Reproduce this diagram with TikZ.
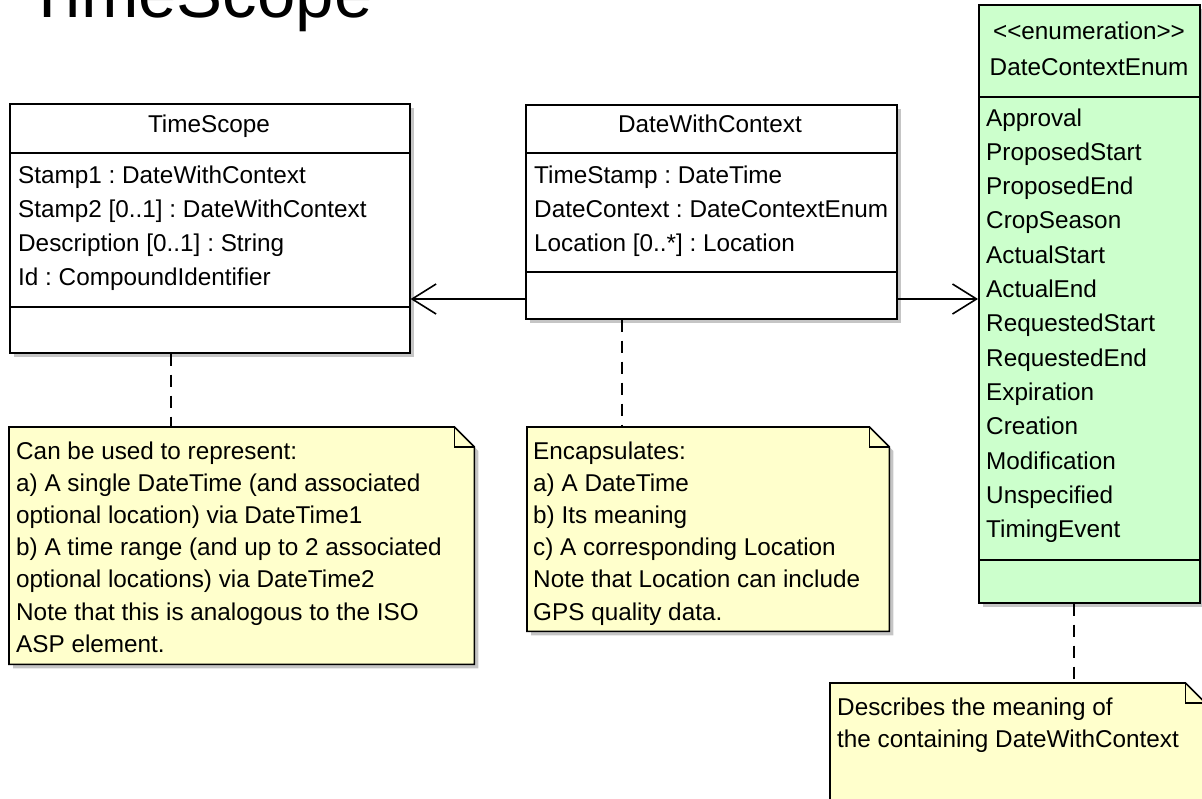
\documentclass[tikz,border=0pt]{standalone}
\usepackage{fontspec}
\setmainfont{Liberation Sans}
\usetikzlibrary{arrows.meta,shadows}
\definecolor{enumgreen}{RGB}{204,255,204}
\definecolor{noteyellow}{RGB}{255,255,204}
\frenchspacing
\begin{document}
\begin{tikzpicture}[x=1pt,y=-1pt,
  every node/.style={inner sep=0pt},
  classbox/.style={draw, line width=1.6pt, fill=white, anchor=north west,
    drop shadow={shadow xshift=4pt, shadow yshift=-4pt, fill=black!45, opacity=.5}},
  sep/.style={line width=1.6pt},
  classname/.style={anchor=base, font=\fontsize{24.3}{34}\selectfont},
  attrs/.style={anchor=base west, align=left, font=\fontsize{24.3}{34}\selectfont},
  note/.style={anchor=north west, draw=none},
  notepath/.style={draw, line width=1.6pt, fill=noteyellow,
    drop shadow={shadow xshift=4pt, shadow yshift=-4pt, fill=black!45, opacity=.5}},
  notetext/.style={anchor=base west, align=left, font=\fontsize{24.3}{32.2}\selectfont},
  notelink/.style={line width=1.6pt, dash pattern=on 12pt off 9pt},
  assoc/.style={line width=1.6pt, -{Straight Barb[length=24pt, width=30pt]}}]
\useasboundingbox (0,0) rectangle (1202,798);
\clip (0,0) rectangle (1202,798);

\node (title) [anchor=base west, font=\fontsize{69}{69}\selectfont] at (26,17) {TimeScope};

% classes
\node (ts) [classbox, minimum width=400, minimum height=249] at (9,103) {};
\node (dwc) [classbox, minimum width=371, minimum height=214] at (525,104) {};
\node (enum) [classbox, fill=enumgreen, minimum width=221, minimum height=598] at (978,4) {};

\draw[sep]
(ts.west |- 0,153) -- (ts.east |- 0,153)
(ts.west |- 0,307) -- (ts.east |- 0,307)
(dwc.west |- 0,153) -- (dwc.east |- 0,153)
(dwc.west |- 0,272) -- (dwc.east |- 0,272)
(enum.west |- 0,97) -- (enum.east |- 0,97)
(enum.west |- 0,560) -- (enum.east |- 0,560);

% base of a multi-line node = baseline of its last line
\node (tsname) [classname] at (209,132) {TimeScope};
\node (tsattr) [attrs] at (18,285) {Stamp1 : DateWithContext\\
Stamp2 [0..1] : DateWithContext\\
Description [0..1] : String\\
Id : CompoundIdentifier};

\node (dwcname) [classname] at (710,132) {DateWithContext};
\node (dwcattr) [attrs] at (534,251) {TimeStamp : DateTime\\
DateContext : DateContextEnum\\
Location [0..*] : Location};

\node (enumstereo) [classname] at (1089,39) {<\kern0pt<enumeration>\kern0pt>};
\node (enumname) [classname] at (1089,75) {DateContextEnum};
\node (enumlit) [attrs, font=\fontsize{24.3}{34.3}\selectfont] at (986,537.6) {Approval\\
ProposedStart\\
ProposedEnd\\
CropSeason\\
ActualStart\\
ActualEnd\\
RequestedStart\\
RequestedEnd\\
Expiration\\
Creation\\
Modification\\
Unspecified\\
TimingEvent};

% notes
\node (n1) [note, minimum width=465, minimum height=237] at (9,427) {};
\node (n2) [note, minimum width=362, minimum height=204] at (527,427) {};
\node (n3) [note, minimum width=375, minimum height=200] at (830,683) {};

\foreach \n in {n1,n2,n3} {
\draw[notepath] (\n.north west) -- ([xshift=-20pt]\n.north east)
  -- ([yshift=-20pt]\n.north east) -- (\n.south east) -- (\n.south west) -- cycle;
\draw[sep] ([xshift=-20pt]\n.north east) |- ([yshift=-20pt]\n.north east);
}

\node (n1text) [notetext] at (16,652.2) {Can be used to represent:\\
a) A single DateTime (and associated\\
optional location) via DateTime1\\
b) A time range (and up to 2 associated\\
optional locations) via DateTime2\\
Note that this is analogous to the ISO\\
ASP element.};
\node (n2text) [notetext] at (533,620) {Encapsulates:\\
a) A DateTime\\
b) Its meaning\\
c) A corresponding Location\\
Note that Location can include\\
GPS quality data.};
\node (n3text) [notetext] at (837,747.2) {Describes the meaning of\\
the containing DateWithContext};

% links
\draw[notelink] (ts.south -| 171,0) -- (n1.north -| 171,0);
\draw[notelink] (dwc.south -| 622,0) -- (n2.north -| 622,0);
\draw[notelink] (enum.south -| 1074,0) -- (n3.north -| 1074,0);

\draw[assoc] (dwc.west |- 0,299) -- (ts.east |- 0,299);
\draw[assoc] (dwc.east |- 0,299) -- (enum.west |- 0,299);
\end{tikzpicture}
\end{document}
